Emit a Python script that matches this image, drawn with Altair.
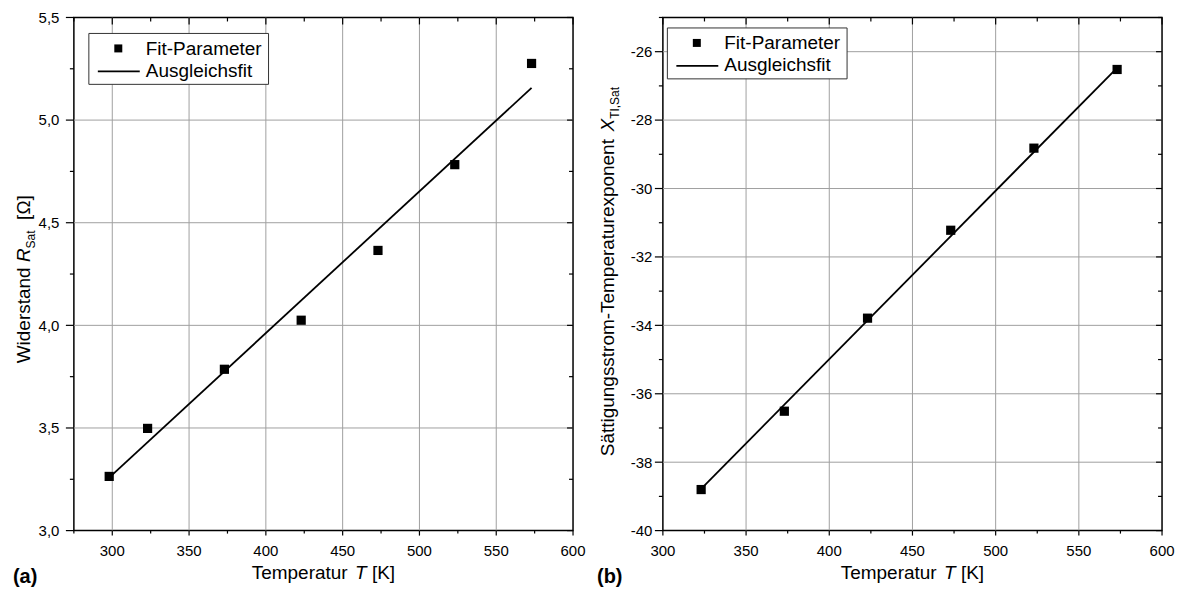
import altair as alt
import pandas as pd

FONT = "Liberation Sans"
W, H = 500, 514

# ---------------- data ----------------
T_A = [298, 323, 373, 423, 473, 523, 573]
R_A = [3.264, 3.498, 3.786, 4.025, 4.365, 4.783, 5.276]
FIT_T_A = [298, 573]
FIT_R_A = [3.258, 5.157]

T_B = [323, 373, 423, 473, 523, 573]
X_B = [-38.80, -36.51, -33.79, -31.22, -28.82, -26.52]
FIT_T_B = [323, 573]
FIT_X_B = [-38.78, -26.47]

XA_DOMAIN = [275, 600]
YA_DOMAIN = [3.0, 5.5]
XB_DOMAIN = [300, 600]
YB_DOMAIN = [-40, -25]

XA_MAJOR = [300, 350, 400, 450, 500, 550, 600]
XA_LABELS = ["300", "350", "400", "450", "500", "550", "600"]
XA_MINOR = [275, 325, 375, 425, 475, 525, 575]
YA_MAJOR = [3.0, 3.5, 4.0, 4.5, 5.0, 5.5]
YA_LABELS = ["3,0", "3,5", "4,0", "4,5", "5,0", "5,5"]
YA_MINOR = [3.25, 3.75, 4.25, 4.75, 5.25]

XB_MAJOR = [300, 350, 400, 450, 500, 550, 600]
XB_LABELS = ["300", "350", "400", "450", "500", "550", "600"]
XB_MINOR = [325, 375, 425, 475, 525, 575]
YB_MAJOR = [-40, -38, -36, -34, -32, -30, -28, -26]
YB_LABELS = ["-40", "-38", "-36", "-34", "-32", "-30", "-28", "-26"]
YB_MINOR = [-39, -37, -35, -33, -31, -29, -27, -25]

LEGEND_LABELS = ["Fit-Parameter", "Ausgleichsfit"]
PANEL_LABELS = ["(a)", "(b)"]
X_TITLE = [("Temperatur ", "normal"), ("T", "italic"), (" [K]", "normal")]
YA_TITLE = [("Widerstand ", "normal"), ("R", "italic"), ("Sat", "sub"), ("  [Ω]", "normal")]
YB_TITLE = [("Sättigungsstrom-Temperaturexponent ", "normal"), ("X", "italic"), ("TI,Sat", "sub")]

TITLE_SIZE = 19
SUB_SIZE = 12
TICK_SIZE = 15
GRID = "#a0a0a0"

ADV = {
    'T': .611, 'e': .556, 'm': .833, 'p': .556, 'r': .333, 'a': .556, 't': .278, 'u': .556,
    ' ': .278, '[': .278, ']': .278, 'K': .667, 'W': .944, 'i': .222, 'd': .556, 's': .5,
    'n': .556, 'R': .722, 'S': .667, 'Ω': .768, 'ä': .556, 'g': .556, 'o': .556, 'x': .5,
    'X': .667, 'I': .278, ',': .278, '-': .333,
}


def tw(s, size):
    return sum(ADV.get(c, 0.556) for c in s) * size


def text_layer(s, x, y, size, style="normal", weight="normal", angle=0):
    return alt.Chart(pd.DataFrame({"t": [s]})).mark_text(
        align="left", baseline="alphabetic", font=FONT, fontSize=size,
        fontStyle=style, fontWeight=weight, angle=angle, color="black"
    ).encode(x=alt.value(x), y=alt.value(y), text="t:N")


def x_title_layers(cx, baseline):
    total = sum(tw(s, TITLE_SIZE) for s, _ in X_TITLE)
    x = cx - total / 2
    out = []
    for s, st in X_TITLE:
        lead = tw(s[:len(s) - len(s.lstrip())], TITLE_SIZE)
        out.append(text_layer(s.strip(), x + lead, baseline, TITLE_SIZE, style=st))
        x += tw(s, TITLE_SIZE)
    return out


def y_title_layers(pieces, base_x, cy):
    def size_of(kind):
        return SUB_SIZE if kind == "sub" else TITLE_SIZE
    total = sum(tw(s, size_of(k)) for s, k in pieces)
    y = cy + total / 2
    out = []
    for s, k in pieces:
        sz = size_of(k)
        shift = 5 if k == "sub" else 0
        lead = tw(s[:len(s) - len(s.lstrip())], sz)
        out.append(text_layer(s.strip(), base_x + shift, y - lead, sz,
                              style="italic" if k == "italic" else "normal", angle=270))
        y -= tw(s, sz)
    return out


def rule_x(vals, xs, y1, y2, color="black", width=1.2):
    return alt.Chart(pd.DataFrame({"v": vals})).mark_rule(color=color, strokeWidth=width).encode(
        x=alt.X("v:Q", scale=xs, axis=None), y=alt.value(y1), y2=alt.value(y2))


def rule_y(vals, ys, x1, x2, color="black", width=1.2):
    return alt.Chart(pd.DataFrame({"v": vals})).mark_rule(color=color, strokeWidth=width).encode(
        y=alt.Y("v:Q", scale=ys, axis=None), x=alt.value(x1), x2=alt.value(x2))


def panel(T, Y, FT, FY, xdom, ydom, xmaj, xlab, xmin, ymaj, ylab, ymin, ylab_x,
          ytitle, ytitle_x, ytitle_cy, legend_dx, legend_dy, panel_label, panel_dx, bounds_left):
    xs = alt.Scale(domain=xdom, nice=False, zero=False)
    ys = alt.Scale(domain=ydom, nice=False, zero=False)

    layers = []
    # grid lines (interior majors only)
    layers.append(rule_x([v for v in xmaj if xdom[0] < v < xdom[1]], xs, 0, H, GRID, 1))
    layers.append(rule_y([v for v in ymaj if ydom[0] < v < ydom[1]], ys, 0, W, GRID, 1))

    # data
    layers.append(alt.Chart(pd.DataFrame({"T": FT, "Y": FY})).mark_line(
        color="black", strokeWidth=1.8
    ).encode(x=alt.X("T:Q", scale=xs, axis=None), y=alt.Y("Y:Q", scale=ys, axis=None)))
    layers.append(alt.Chart(pd.DataFrame({"T": T, "Y": Y})).mark_square(
        size=85, color="black", opacity=1
    ).encode(x=alt.X("T:Q", scale=xs, axis=None), y=alt.Y("Y:Q", scale=ys, axis=None)))

    # outward ticks bottom / left
    layers.append(rule_x(xmaj, xs, H, H + 5))
    layers.append(rule_x(xmin, xs, H, H + 3))
    layers.append(rule_y(ymaj, ys, 0, -8))
    layers.append(rule_y(ymin, ys, 0, -4))
    # inward ticks top / right
    layers.append(rule_x(xmaj, xs, 0, 7))
    layers.append(rule_x(xmin, xs, 0, 4))
    layers.append(rule_y(ymaj, ys, W, W - 6))
    layers.append(rule_y(ymin, ys, W, W - 4))

    # tick labels
    layers.append(alt.Chart(pd.DataFrame({"v": xmaj, "l": xlab})).mark_text(
        align="center", baseline="alphabetic", font=FONT, fontSize=TICK_SIZE, color="black"
    ).encode(x=alt.X("v:Q", scale=xs, axis=None), y=alt.value(H + 25), text="l:N"))
    layers.append(alt.Chart(pd.DataFrame({"v": ymaj, "l": ylab})).mark_text(
        align="right", baseline="alphabetic", font=FONT, fontSize=TICK_SIZE, color="black", dy=5.4
    ).encode(y=alt.Y("v:Q", scale=ys, axis=None), x=alt.value(ylab_x), text="l:N"))

    # legend box
    one = pd.DataFrame({"a": [0]})
    lx, ly = legend_dx, legend_dy
    layers.append(alt.Chart(one).mark_rect(fill="white", stroke="#333333", strokeWidth=1).encode(
        x=alt.value(lx), x2=alt.value(lx + 180), y=alt.value(ly), y2=alt.value(ly + 51)))
    layers.append(alt.Chart(one).mark_square(size=64, color="black", opacity=1).encode(
        x=alt.value(lx + 29.5), y=alt.value(ly + 15)))
    layers.append(alt.Chart(one).mark_rule(color="black", strokeWidth=1.8).encode(
        x=alt.value(lx + 9), x2=alt.value(lx + 51), y=alt.value(ly + 38)))
    layers.append(text_layer(LEGEND_LABELS[0], lx + 57, ly + 21.5, 19))
    layers.append(text_layer(LEGEND_LABELS[1], lx + 57, ly + 43.5, 19))

    layers += x_title_layers(W / 2, 562)
    layers += y_title_layers(ytitle, ytitle_x, ytitle_cy)
    layers.append(text_layer(panel_label, panel_dx, 566, 20, weight="bold"))

    # invisible extent rect fixing the page layout
    if bounds_left:
        bx, bx2 = -73, 0
    else:
        bx, bx2 = W, W + 21
    layers.append(alt.Chart(one).mark_rect(opacity=0).encode(
        x=alt.value(bx), x2=alt.value(bx2), y=alt.value(-16), y2=alt.value(H + 62)))

    return alt.layer(*layers).properties(width=W, height=H)


left = panel(T_A, R_A, FIT_T_A, FIT_R_A, XA_DOMAIN, YA_DOMAIN, XA_MAJOR, XA_LABELS, XA_MINOR,
             YA_MAJOR, YA_LABELS, YA_MINOR, -14.5,
             YA_TITLE, -44, 262, 15, 16, PANEL_LABELS[0], -61, True)

right = panel(T_B, X_B, FIT_T_B, FIT_X_B, XB_DOMAIN, YB_DOMAIN, XB_MAJOR, XB_LABELS, XB_MINOR,
              YB_MAJOR, YB_LABELS, YB_MINOR, -10.5,
              YB_TITLE, -49, 254.5, 4.5, 10.5, PANEL_LABELS[1], -66, False)

chart = alt.hconcat(left, right, spacing=90, bounds="flush").properties(
    padding=0, background="white"
).configure_view(stroke="black", strokeWidth=1.5)

chart.save("out.html", embed_options={"renderer": "svg", "actions": False})
